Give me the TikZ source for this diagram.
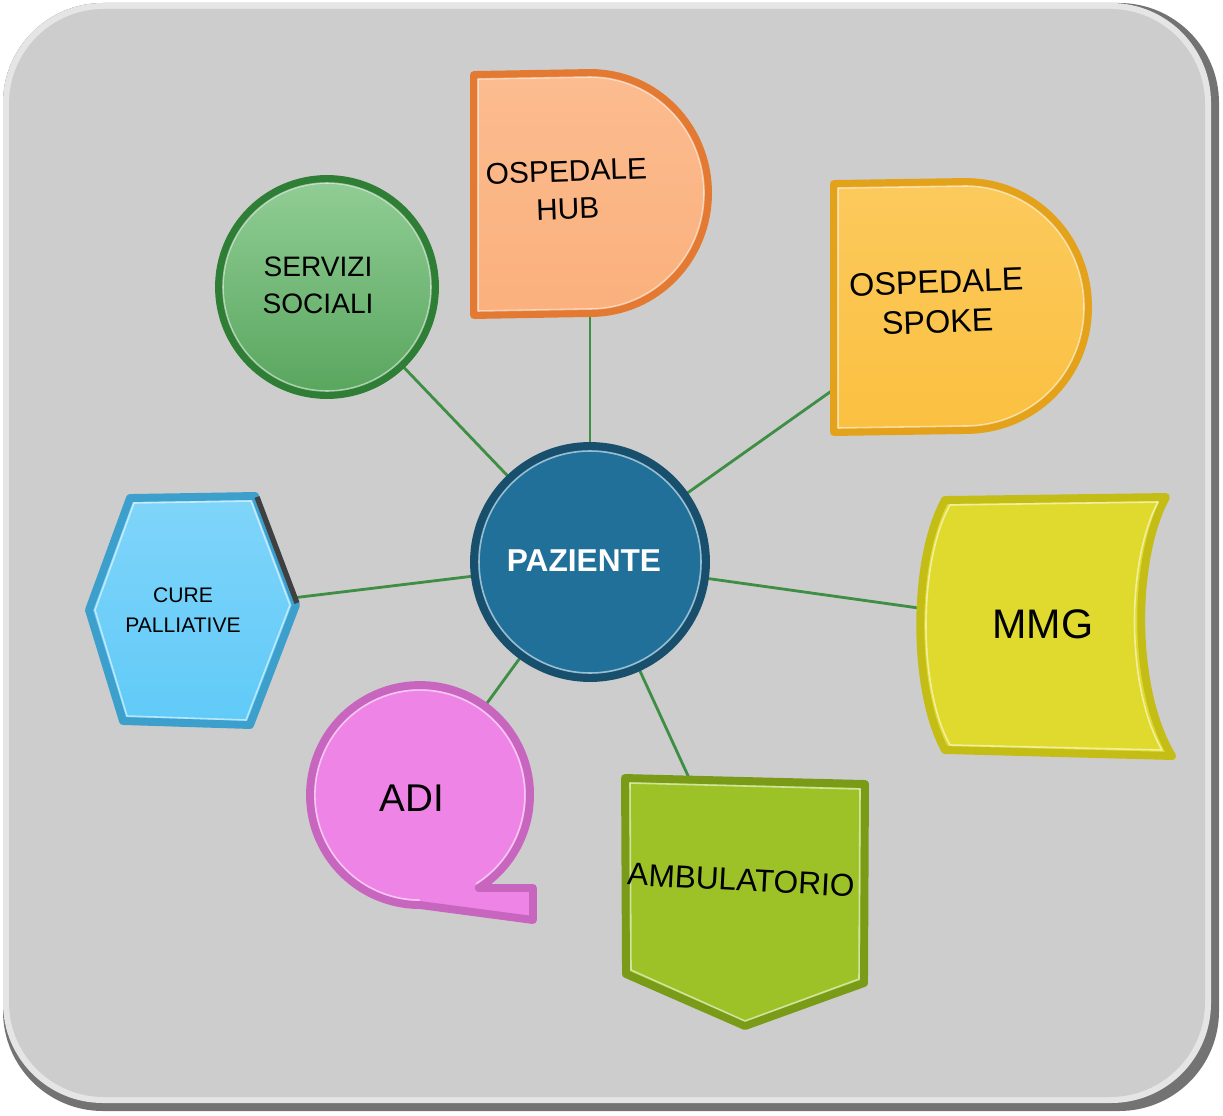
\documentclass[tikz,border=0pt]{standalone}
\usepackage{fontspec}
\setmainfont{Liberation Sans}
\usetikzlibrary{positioning}
\definecolor{bggray}{HTML}{CDCDCD}
\definecolor{linkgreen}{HTML}{3E8E44}
\definecolor{pzblue}{HTML}{21709A}
\definecolor{pzrim}{HTML}{174F6C}
\definecolor{ssgreen}{HTML}{62B868}
\definecolor{ssrim}{HTML}{2F7E35}
\definecolor{huborange}{HTML}{FBB07C}
\definecolor{hubrim}{HTML}{E47A32}
\definecolor{spokeyellow}{HTML}{FBC040}
\definecolor{spokerim}{HTML}{E3A21A}
\definecolor{mmgyellow}{HTML}{E0DA2E}
\definecolor{mmgrim}{HTML}{C4BD16}
\definecolor{ambgreen}{HTML}{9CC228}
\definecolor{ambrim}{HTML}{7A9B17}
\definecolor{adipink}{HTML}{EE85E6}
\definecolor{adirim}{HTML}{C765BF}
\definecolor{cureblue}{HTML}{60CAF8}
\definecolor{curerim}{HTML}{3C9FCC}
\tikzset{
  link/.style={draw=linkgreen, line width=1.6pt},
  bevel/.style={line width=4.5pt, line join=round},
  shine/.style={draw=white, draw opacity=0.55, line width=0.9pt, line join=round},
  txt/.style={align=center, text=black, inner sep=0pt},
}

\begin{document}
\begin{tikzpicture}[x=0.02cm, y=-0.02cm]
  \useasboundingbox (0,0) rectangle (1223,1115);
  % background panel
  \fill[black!55, rounded corners=2cm] (3,3) rectangle (1219,1111);
  \fill[gray!20, rounded corners=2cm] (3,3) rectangle (1211,1103);
  \fill[bggray, rounded corners=1.9cm] (9,9) rectangle (1205,1097);

  % centres
  \coordinate (c-pz) at (590,562);
  \coordinate (c-hub) at (590,195);
  \coordinate (c-spoke) at (950,307);
  \coordinate (c-mmg) at (1040,625);
  \coordinate (c-amb) at (745,900);
  \coordinate (c-adi) at (420,795);
  \coordinate (c-cure) at (193,610);
  \coordinate (c-ss) at (327,287);

  % connectors
  \path[link] (c-pz) edge (c-hub)
                     edge (c-spoke)
                     edge (c-mmg)
                     edge (c-amb)
                     edge (c-adi)
                     edge (c-cure)
                     edge (c-ss);

  % servizi sociali
  \draw[bevel, draw=ssrim, top color=ssgreen!70!white, bottom color=ssgreen!90!black] (c-ss) circle[radius=108];
  \draw[shine] (c-ss) circle[radius=104];

  % ospedale hub
  \draw[bevel, draw=hubrim, top color=huborange!85!white, bottom color=huborange] (474,315) -- (474,75) -- (590,73)
        .. controls (656,73) and (708,127) .. (708,193)
        .. controls (708,259) and (656,313) .. (590,313) -- cycle;
  \draw[shine] (478,311) -- (478,79) -- (590,77)
        .. controls (653,77) and (704,129) .. (704,193)
        .. controls (704,257) and (653,309) .. (590,309) -- cycle;

  % ospedale spoke
  \draw[bevel, draw=spokerim, top color=spokeyellow!85!white, bottom color=spokeyellow] (834,432) -- (834,184) -- (965,182)
        .. controls (1034,182) and (1088,238) .. (1088,307)
        .. controls (1088,376) and (1034,430) .. (965,430) -- cycle;
  \draw[shine] (838,428) -- (838,188) -- (965,186)
        .. controls (1031,186) and (1084,240) .. (1084,307)
        .. controls (1084,374) and (1031,426) .. (965,426) -- cycle;

  % mmg
  \draw[bevel, draw=mmgrim, fill=mmgyellow] (945,500) -- (1166,497)
        .. controls (1132,560) and (1132,690) .. (1172,756) -- (945,750)
        .. controls (912,690) and (912,560) .. (945,500) -- cycle;
  \draw[shine] (950,505) -- (1158,502)
        .. controls (1126,562) and (1126,688) .. (1162,750) -- (950,745)
        .. controls (918,688) and (918,562) .. (950,505) -- cycle;

  % ambulatorio
  \draw[bevel, draw=ambrim, fill=ambgreen] (625,778) -- (865,784) -- (864,983) -- (745,1026) -- (626,974) -- cycle;
  \draw[shine] (630,783) -- (860,789) -- (859,979) -- (745,1021) -- (631,970) -- cycle;

  % adi
  \draw[bevel, draw=adirim, fill=adipink] (478.8,888) arc[start angle=57.7, end angle=-270, radius=110]
        -- (533,920) -- (533,888) -- cycle;
  \draw[shine] (476,883.8) arc[start angle=57.7, end angle=-270, radius=105];

  % cure palliative
  \draw[bevel, draw=curerim, top color=cureblue!80!white, bottom color=cureblue] (89,610) -- (130,498) -- (255,496)
        -- (296,605) -- (250,725) -- (123,721) -- cycle;
  \draw[shine] (95,610) -- (134,503) -- (251,501) -- (290,605) -- (246,720) -- (127,716) -- cycle;
  \draw[black!75, line width=3pt] (257,497) -- (297,603);

  % paziente
  \draw[bevel, draw=pzrim, fill=pzblue] (c-pz) circle[radius=116];
  \draw[shine] (c-pz) circle[radius=111];

  % labels
  \node[txt, text=white, font=\fontsize{18}{21}\selectfont\bfseries] (pz) at (584,561) {PAZIENTE};
  \node[txt, font=\fontsize{16}{21}\selectfont] (ss) at (318,285) {SERVIZI\\SOCIALI};
  \node[txt, font=\fontsize{17}{21.5}\selectfont, rotate=2] (hub) at (567,190) {OSPEDALE\\HUB};
  \node[txt, font=\fontsize{18.4}{22.7}\selectfont, rotate=2] (spoke) at (937,302) {OSPEDALE\\SPOKE};
  \node[txt, font=\fontsize{23.5}{26}\selectfont] (mmg) at (1043,624) {MMG};
  \node[txt, font=\fontsize{18}{21}\selectfont, rotate=-3] (amb) at (741,880) {AMBULATORIO};
  \node[txt, font=\fontsize{22}{25}\selectfont] (adi) at (412,798) {ADI};
  \node[txt, font=\fontsize{12}{17}\selectfont] (cure) at (183,610) {CURE\\PALLIATIVE};
\end{tikzpicture}
\end{document}
